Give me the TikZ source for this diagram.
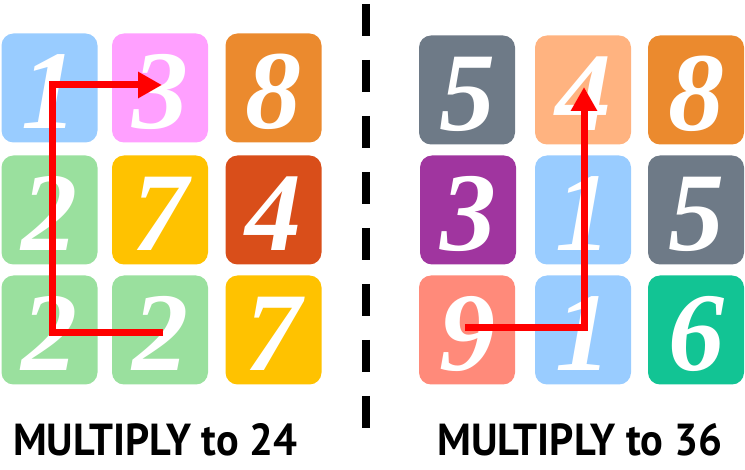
\documentclass[tikz,border=0pt]{standalone}
\usepackage{fontspec}
\usepackage{graphicx}
\setmainfont{Liberation Serif}
\newfontfamily\labelfont{PT Sans}
\usetikzlibrary{arrows.meta}
\definecolor{cblue}{RGB}{153,204,255}
\definecolor{cpink}{RGB}{255,160,255}
\definecolor{corange}{RGB}{235,138,46}
\definecolor{cgreen}{RGB}{154,224,158}
\definecolor{cyellow}{RGB}{255,194,0}
\definecolor{cdorange}{RGB}{217,78,26}
\definecolor{cgray}{RGB}{110,122,135}
\definecolor{cpeach}{RGB}{255,179,128}
\definecolor{cpurple}{RGB}{160,53,159}
\definecolor{csalmon}{RGB}{255,138,122}
\definecolor{cteal}{RGB}{18,196,148}
\definecolor{cred}{RGB}{255,0,0}
\tikzset{
  tile/.style={rectangle, rounded corners=12pt, minimum width=96pt, minimum height=109pt, inner sep=0pt, fill=#1},
  digit/.style={anchor=base, text=white, font=\fontsize{112}{112}\selectfont\bfseries\itshape, inner sep=0pt},
  path arrow/.style={draw=cred, line width=7pt, -{Triangle[length=24pt,width=25pt]}},
  divider/.style={draw=black, line width=8pt, dash pattern=on 32pt off 24pt},
  caption/.style={anchor=base west, inner sep=0pt, font=\labelfont\bfseries}
}
\begin{document}
\begin{tikzpicture}[x=1pt,y=-1pt]
\useasboundingbox (0,0) rectangle (745,470);
\newcommand\tileat[5]{%
  \node[tile=#4] (#1) at (#2,#3) {};
  \node[digit] (#1d) at (#2,#3+41) {#5};}
% left grid
\tileat{La}{49.5}{88}{cblue}{1}
\tileat{Lb}{160}{88}{cpink}{3}
\tileat{Lc}{273.5}{88}{corange}{8}
\tileat{Ld}{49.5}{210}{cgreen}{2}
\tileat{Le}{160}{210}{cyellow}{7}
\tileat{Lf}{273.5}{210}{cdorange}{4}
\tileat{Lg}{49.5}{330}{cgreen}{2}
\tileat{Lh}{160}{330}{cgreen}{2}
\tileat{Li}{273.5}{330}{cyellow}{7}
% right grid
\tileat{Ra}{467}{90}{cgray}{5}
\tileat{Rb}{583}{90}{cpeach}{4}
\tileat{Rc}{696}{90}{corange}{8}
\tileat{Rd}{468}{210}{cpurple}{3}
\tileat{Re}{583}{210}{cblue}{1}
\tileat{Rf}{696}{210}{cgray}{5}
\tileat{Rg}{467}{330}{csalmon}{9}
\tileat{Rh}{583}{330}{cblue}{1}
\tileat{Ri}{696}{330}{cteal}{6}
% arrows
\coordinate (ls) at (163,333);
\coordinate (lc1) at (52,333);
\coordinate (lc2) at (52,85);
\coordinate (le) at (162,85);
\draw[path arrow] (ls) -- (lc1) -- (lc2) -- (le);
\coordinate (rs) at (465,328);
\coordinate (rc1) at (584,328);
\coordinate (re) at (584,87);
\draw[path arrow] (rs) -- (rc1) -- (re);
% divider
\coordinate (dtop) at (366,4);
\coordinate (dbot) at (366,428);
\draw[divider] (dtop) -- (dbot);
% captions
\node[caption] (capL) at (13,456) {\resizebox{284pt}{32pt}{MULTIPLY to 24}};
\node[caption] (capR) at (437,456) {\resizebox{285pt}{32pt}{MULTIPLY to 36}};
\end{tikzpicture}
\end{document}
